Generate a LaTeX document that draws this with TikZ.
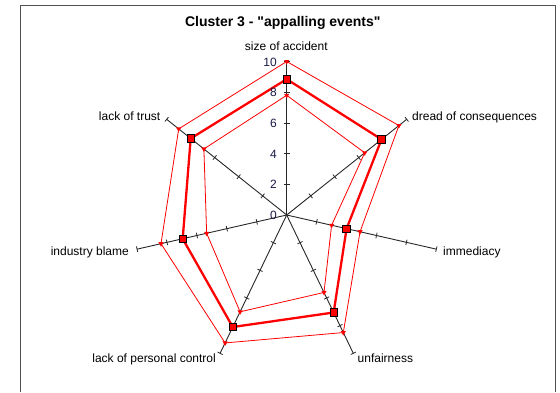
\documentclass[tikz,border=0pt]{standalone}
\usepackage{fontspec}
\setmainfont{Liberation Sans}
\usetikzlibrary{calc,shapes.geometric}
\definecolor{axisc}{RGB}{40,40,40}
\definecolor{numc}{RGB}{25,25,70}
\definecolor{framec}{RGB}{80,80,80}
\tikzset{
 axisline/.style={draw=axisc, line width=0.9pt},
 tickline/.style={draw=axisc, line width=0.8pt},
 thinred/.style={draw=red, line width=0.8pt, line join=round},
 thickred/.style={draw=red, line width=2.3pt, line join=round},
 sqmark/.style={draw=black, fill=red, line width=0.8pt, minimum size=7.5pt, inner sep=0pt, rectangle},
 trimark/.style={fill=red, regular polygon, regular polygon sides=3, shape border rotate=180, minimum size=6pt, inner sep=0pt},
 lbl/.style={font=\fontsize{12}{14}\selectfont, inner sep=0pt},
 num/.style={font=\fontsize{12}{14}\selectfont, text=numc, inner sep=0pt, anchor=base east},
}
\begin{document}
\begin{tikzpicture}[x=1pt,y=1pt]
\useasboundingbox (0,0) rectangle (560,-392);
\fill[white] (0,0) rectangle (560,-392);
\draw[framec, line width=1.3pt] (20.7,-392) -- (20.7,-5.7) -- (555.5,-5.7) -- (555.5,-392);
\coordinate (C) at (286.7,-215);
\def\U{15.35}
\foreach \k in {0,...,6}{
  \pgfmathsetmacro{\ang}{90-\k*360/7}
  \coordinate (e\k) at ($(C)+(\ang:153.5)$);
  \draw[axisline] (C) -- (e\k);
  \foreach \v in {2,4,6,8,10}{
    \draw[tickline] ($(C)+(\ang:\v*\U)+(\ang+90:2.8)$) -- ($(C)+(\ang:\v*\U)+(\ang-90:2.8)$);
  }
}
\foreach \k/\vo/\vt/\vi in {0/10/8.85/7.8, 1/9.35/7.9/6.5, 2/4.9/4.0/3.0, 3/8.5/7.05/5.6, 4/9.25/8.1/7.0, 5/8.4/6.95/5.35, 6/9.0/8.0/6.9}{
  \pgfmathsetmacro{\ang}{90-\k*360/7}
  \coordinate (o\k) at ($(C)+(\ang:\vo*\U)$);
  \coordinate (t\k) at ($(C)+(\ang:\vt*\U)$);
  \coordinate (i\k) at ($(C)+(\ang:\vi*\U)$);
}
\draw[thinred] (o0) -- (o1) -- (o2) -- (o3) -- (o4) -- (o5) -- (o6) -- cycle;
\draw[thinred] (i0) -- (i1) -- (i2) -- (i3) -- (i4) -- (i5) -- (i6) -- cycle;
\draw[thickred] (t0) -- (t1) -- (t2) -- (t3) -- (t4) -- (t5) -- (t6) -- cycle;
\foreach \k in {0,...,6}{
  \node[trimark] (om\k) at (o\k) {};
  \node[trimark] (im\k) at (i\k) {};
  \node[sqmark] (tm\k) at (t\k) {};
}
\foreach \v in {0,2,4,6,8,10}{
  \node[num] (n\v) at (277,{-219.5+\v*\U}) {\v};
}
\node[font=\bfseries\fontsize{14}{16}\selectfont, anchor=base, inner sep=0pt] (title) at (282.8,-26.7) {Cluster 3 - \textquotedbl appalling events\textquotedbl};
\node[lbl, anchor=base] (Lsize) at (286.3,-50.7) {size of accident};
\node[lbl, anchor=base west] (Ldread) at (412,-120.7) {dread of consequences};
\node[lbl, anchor=base west] (Limm) at (443,-255.7) {immediacy};
\node[lbl, anchor=base west] (Lunf) at (357.5,-362.7) {unfairness};
\node[lbl, anchor=base east] (Lpc) at (216,-362.7) {lack of personal control};
\node[lbl, anchor=base east] (Lind) at (129,-255.7) {industry blame};
\node[lbl, anchor=base east] (Ltr) at (160.5,-120) {lack of trust};
\end{tikzpicture}
\end{document}
